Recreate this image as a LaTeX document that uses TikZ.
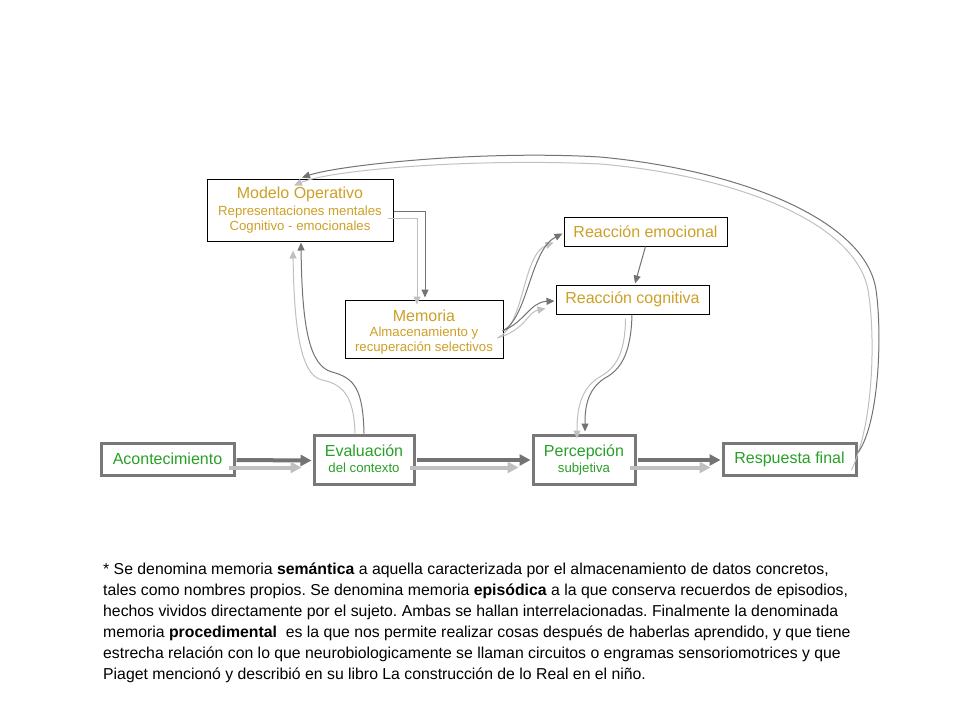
\documentclass[tikz,border=0pt]{standalone}
\usepackage{fontspec}
\setmainfont{Liberation Sans}
\usetikzlibrary{arrows.meta}
\definecolor{gold}{RGB}{205,160,40}
\definecolor{grn}{RGB}{40,160,40}
\definecolor{dk}{RGB}{115,115,115}
\definecolor{lt}{RGB}{192,192,192}
\definecolor{bord}{RGB}{120,120,120}
\frenchspacing
\begin{document}
\begin{tikzpicture}[x=1pt,y=-1pt,
 goldbox/.style={draw=black, line width=1pt, fill=white, text=gold, inner sep=0pt, align=center},
 greenbox/.style={draw=bord, line width=3pt, fill=white, text=grn, inner sep=0pt, align=center},
 goldlab/.style={anchor=base, inner sep=0pt, text=gold},
 greenlab/.style={anchor=base, inner sep=0pt, text=grn},
 bigf/.style={font=\fontsize{16}{18}\selectfont},
 smallf/.style={font=\fontsize{13.2}{15.5}\selectfont},
 thickdark/.style={draw=dk, line width=4pt, -{Triangle[length=11pt,width=11pt]}},
 thicklight/.style={draw=lt, line width=4pt, -{Triangle[length=11pt,width=11pt]}},
 thindark/.style={draw=dk, line width=1pt, -{Triangle[length=8pt,width=7pt]}},
 thinlight/.style={draw=lt, line width=1pt, -{Triangle[length=8pt,width=7pt]}},
 para/.style={anchor=base west, inner sep=0pt, font=\fontsize{15.8}{18}\selectfont}
]
\useasboundingbox (0,0) rectangle (960,720);
\fill[white] (0,0) rectangle (960,720);

% boxes
\node[goldbox, minimum width=186, minimum height=62] (modelo) at (300,210) {};
\node[goldlab, bigf] (modeloA) at ([yshift=-19.5pt]modelo.north) {Modelo Operativo};
\node[goldlab, smallf] (modeloB) at ([yshift=-36.5pt]modelo.north) {Representaciones mentales};
\node[goldlab, smallf] (modeloC) at ([yshift=-51.5pt]modelo.north) {Cognitivo - emocionales};

\node[goldbox, minimum width=158, minimum height=58] (memoria) at (424,329) {};
\node[goldlab, bigf] (memoriaA) at ([yshift=-21.5pt]memoria.north) {Memoria};
\node[goldlab, smallf] (memoriaB) at ([yshift=-36.5pt]memoria.north) {Almacenamiento y};
\node[goldlab, smallf] (memoriaC) at ([yshift=-51.5pt]memoria.north) {recuperación selectivos};

\node[goldbox, bigf, minimum width=163, minimum height=29] (emo) at (645.5,231.5) {Reacción emocional};
\node[goldbox, bigf, minimum width=153, minimum height=29] (cog) at (632.5,299.5) {Reacción cognitiva};

\node[greenbox, bigf, minimum width=133, minimum height=32] (acont) at (167.5,459) {Acontecimiento};
\node[greenbox, minimum width=100, minimum height=49] (eval) at (364,459.5) {};
\node[greenlab, bigf] (evalA) at ([yshift=-23pt]eval.north) {Evaluación};
\node[greenlab, smallf] (evalB) at ([yshift=-39pt]eval.north) {del contexto};
\node[greenbox, minimum width=102, minimum height=49] (perc) at (584,459.5) {};
\node[greenlab, bigf] (percA) at ([yshift=-23pt]perc.north) {Percepción};
\node[greenlab, smallf] (percB) at ([yshift=-39pt]perc.north) {subjetiva};
\node[greenbox, bigf, minimum width=133, minimum height=32] (resp) at (789.5,459) {Respuesta final};

% horizontal arrows
\draw[thickdark] ([xshift=1pt,yshift=-1pt]acont.east) -- ([xshift=-1pt,yshift=-1pt]eval.west);
\draw[thicklight] ([xshift=-7pt,yshift=-8.5pt]acont.east) -- ([xshift=-11pt,yshift=-8pt]eval.west);
\draw[thickdark] ([xshift=1pt,yshift=-0.5pt]eval.east) -- ([xshift=-1pt,yshift=-0.5pt]perc.west);
\draw[thicklight] ([xshift=-6pt,yshift=-8pt]eval.east) -- ([xshift=-13pt,yshift=-8pt]perc.west);
\draw[thickdark] ([xshift=1pt,yshift=-0.5pt]perc.east) -- ([xshift=-1pt,yshift=-1pt]resp.west);
\draw[thicklight] ([xshift=-7pt,yshift=-8pt]perc.east) -- ([xshift=-11pt,yshift=-8.5pt]resp.west);

% evaluacion -> modelo
\draw[thinlight] ([xshift=-9pt]eval.north) .. controls (354,395) and (342,384) .. (322,380)
   .. controls (299,375) and (294,320) .. ([xshift=-7pt,yshift=-9pt]modelo.south);
\draw[thindark] (eval.north) .. controls (363,390) and (355,378) .. (332,372)
   .. controls (310,366) and (302,330) .. ([xshift=1pt,yshift=-1pt]modelo.south);

% modelo -> memoria
\draw[thinlight] ([xshift=-6pt,yshift=-8pt]modelo.east) -| ([xshift=-7pt,yshift=-5pt]memoria.north);
\draw[thindark] ([yshift=-1pt]modelo.east) -| ([xshift=1pt,yshift=2pt]memoria.north);

% memoria -> reacciones
\draw[thinlight] ([xshift=-6pt,yshift=-9pt]memoria.east) .. controls (525,325) and (522,255) .. ([xshift=-10pt,yshift=-11pt]emo.west);
\draw[thinlight] ([xshift=-6pt,yshift=-9pt]memoria.east) .. controls (525,330) and (528,312) .. ([xshift=-10pt,yshift=-9pt]cog.west);
\draw[thindark] ([xshift=-1pt,yshift=-2pt]memoria.east) .. controls (528,318) and (530,250) .. ([xshift=-1pt,yshift=-2pt]emo.west);
\draw[thindark] ([xshift=-1pt,yshift=-2pt]memoria.east) .. controls (525,322) and (530,302) .. ([xshift=-1pt,yshift=-1.5pt]cog.west);

% emocional -> cognitiva
\draw[thindark] (emo.south) -- ([xshift=2.5pt,yshift=1pt]cog.north);

% cognitiva -> percepcion
\draw[thinlight] ([xshift=-7pt,yshift=-4pt]cog.south) .. controls (625,360) and (612,370) .. (598,378)
   .. controls (580,390) and (577,410) .. ([xshift=-7pt,yshift=-5pt]perc.north);
\draw[thindark] ([xshift=-0.5pt]cog.south) .. controls (631,355) and (620,370) .. (605,378)
   .. controls (586,390) and (585,410) .. ([xshift=1pt,yshift=2pt]perc.north);

% respuesta -> modelo
\draw[thinlight] ([xshift=-6pt,yshift=-11pt]resp.east) .. controls (875,420) and (875,330) .. (868,290)
   .. controls (855,220) and (730,175) .. (600,164) .. controls (470,158) and (330,170) .. ([xshift=-6pt,yshift=-7pt]modelo.north);
\draw[thindark] ([xshift=1pt,yshift=7pt]resp.east) .. controls (880,420) and (882,330) .. (876,290)
   .. controls (866,220) and (740,170) .. (600,157) .. controls (480,150) and (340,165) .. ([xshift=2pt,yshift=1pt]modelo.north);

% paragraph
\node[para] (l1) at (103,574) {* Se denomina memoria \textbf{semántica} a aquella caracterizada por el almacenamiento de datos concretos,};
\node[para] (l2) at (103,595) {tales como nombres propios. Se denomina memoria \textbf{episódica} a la que conserva recuerdos de episodios,};
\node[para] (l3) at (103,616) {hechos vividos directamente por el sujeto. Ambas se hallan interrelacionadas. Finalmente la denominada};
\node[para] (l4) at (103,637) {memoria \textbf{procedimental}\ \ es la que nos permite realizar cosas después de haberlas aprendido, y que tiene};
\node[para] (l5) at (103,658) {estrecha relación con lo que neurobiologicamente se llaman circuitos o engramas sensoriomotrices y que};
\node[para] (l6) at (103,679) {Piaget mencionó y describió en su libro La construcción de lo Real en el niño.};
\end{tikzpicture}
\end{document}
